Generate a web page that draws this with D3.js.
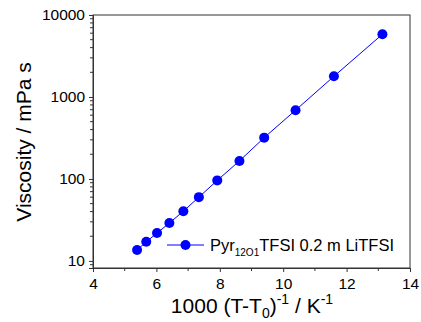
<!DOCTYPE html>
<html>
<head>
<meta charset="utf-8">
<script src="https://cdn.jsdelivr.net/npm/d3@7"></script>
<style>
  body { margin: 0; background: #fff; }
  text { font-family: "Liberation Sans", Arial, sans-serif; }
</style>
</head>
<body>
<svg id="chart" width="421" height="322"></svg>
<script>
// data
var invT = [5.39, 5.68, 6.02, 6.41, 6.85, 7.34, 7.92, 8.62, 9.40, 10.39, 11.60, 13.13];
var viscosity = [13.6, 17.1, 21.9, 29.0, 40.4, 60.0, 96.0, 166, 319, 690, 1786, 5820];
var xTicks = [4, 6, 8, 10, 12, 14];
var yTicks = [10, 100, 1000, 10000];
var seriesName = 'Pyr';

var svg = d3.select('#chart');
var m = {left: 93, right: 410, top: 15, bottom: 268};

var x = d3.scaleLinear().domain([4, 14]).range([m.left, m.right]);
var y = d3.scaleLog().domain([8.2, 10000]).range([m.bottom, m.top]);

var axisColor = '#333';

// frame
svg.append('rect')
  .attr('x', m.left).attr('y', m.top)
  .attr('width', m.right - m.left).attr('height', m.bottom - m.top)
  .attr('fill', 'none').attr('stroke', axisColor).attr('stroke-width', 1);

// x axis
var xAxis = svg.append('g').attr('transform', 'translate(0,' + m.bottom + ')');
xAxis.call(d3.axisBottom(x).tickValues(xTicks).tickSize(4).tickFormat(d3.format('d')));
var xMinor = d3.range(5, 14, 2);
xAxis.selectAll('.minor').data(xMinor).enter().append('line')
  .attr('x1', d => x(d)).attr('x2', d => x(d))
  .attr('y1', 0).attr('y2', 3).attr('stroke', axisColor);

// y axis
var yAxis = svg.append('g').attr('transform', 'translate(' + m.left + ',0)');
yAxis.call(d3.axisLeft(y).tickValues(yTicks).tickSize(4).tickFormat(d3.format('d')));
var yMinor = [];
[1, 10, 100, 1000].forEach(function(dec) {
  for (var k = 2; k <= 9; k++) {
    var v = dec * k;
    if (v >= 8.2 && v <= 10000) yMinor.push(v);
  }
});
yAxis.selectAll('.minor').data(yMinor).enter().append('line')
  .attr('x1', -3).attr('x2', 0)
  .attr('y1', d => y(d)).attr('y2', d => y(d)).attr('stroke', axisColor);

[xAxis, yAxis].forEach(function(a) {
  a.select('.domain').attr('stroke', axisColor);
  a.selectAll('.tick line').attr('stroke', axisColor);
  a.selectAll('.tick text')
    .attr('fill', '#000')
    .style('font-size', '15.5px')
    .style('font-family', '"Liberation Sans", Arial, sans-serif');
});
xAxis.selectAll('.tick text').attr('dy', '0.9em');
yAxis.selectAll('.tick text').attr('dx', '-1px');

// series
var pts = invT.map((d, i) => [d, viscosity[i]]);
svg.append('path')
  .datum(pts)
  .attr('fill', 'none').attr('stroke', '#0000ff').attr('stroke-width', 1)
  .attr('d', d3.line().x(d => x(d[0])).y(d => y(d[1])));
svg.selectAll('.dot').data(pts).enter().append('circle')
  .attr('cx', d => x(d[0])).attr('cy', d => y(d[1]))
  .attr('r', 5).attr('fill', '#0000ff');

// legend
var lg = svg.append('g');
lg.append('line').attr('x1', 167).attr('x2', 204).attr('y1', 245).attr('y2', 245)
  .attr('stroke', '#0000ff');
lg.append('circle').attr('cx', 185.5).attr('cy', 245).attr('r', 5).attr('fill', '#0000ff');
var lt = lg.append('text').attr('x', 210).attr('y', 251).style('font-size', '16.5px');
lt.append('tspan').text(seriesName);
lt.append('tspan').attr('dy', 5).style('font-size', '10px').text('12O1');
lt.append('tspan').attr('dy', -5).text('TFSI 0.2 m LiTFSI');

// axis titles
svg.append('text')
  .attr('transform', 'translate(31,142) rotate(-90)')
  .attr('text-anchor', 'middle').style('font-size', '21px')
  .text('Viscosity / mPa s');

var xt = svg.append('text').attr('x', 252).attr('y', 313)
  .attr('text-anchor', 'middle').style('font-size', '21px');
xt.append('tspan').text('1000 (T-T');
xt.append('tspan').attr('dy', 5).style('font-size', '14px').text('0');
xt.append('tspan').attr('dy', -5).text(')');
xt.append('tspan').attr('dy', -9).style('font-size', '14px').text('-1');
xt.append('tspan').attr('dy', 9).text(' / K');
xt.append('tspan').attr('dy', -9).style('font-size', '14px').text('-1');
</script>
</body>
</html>
